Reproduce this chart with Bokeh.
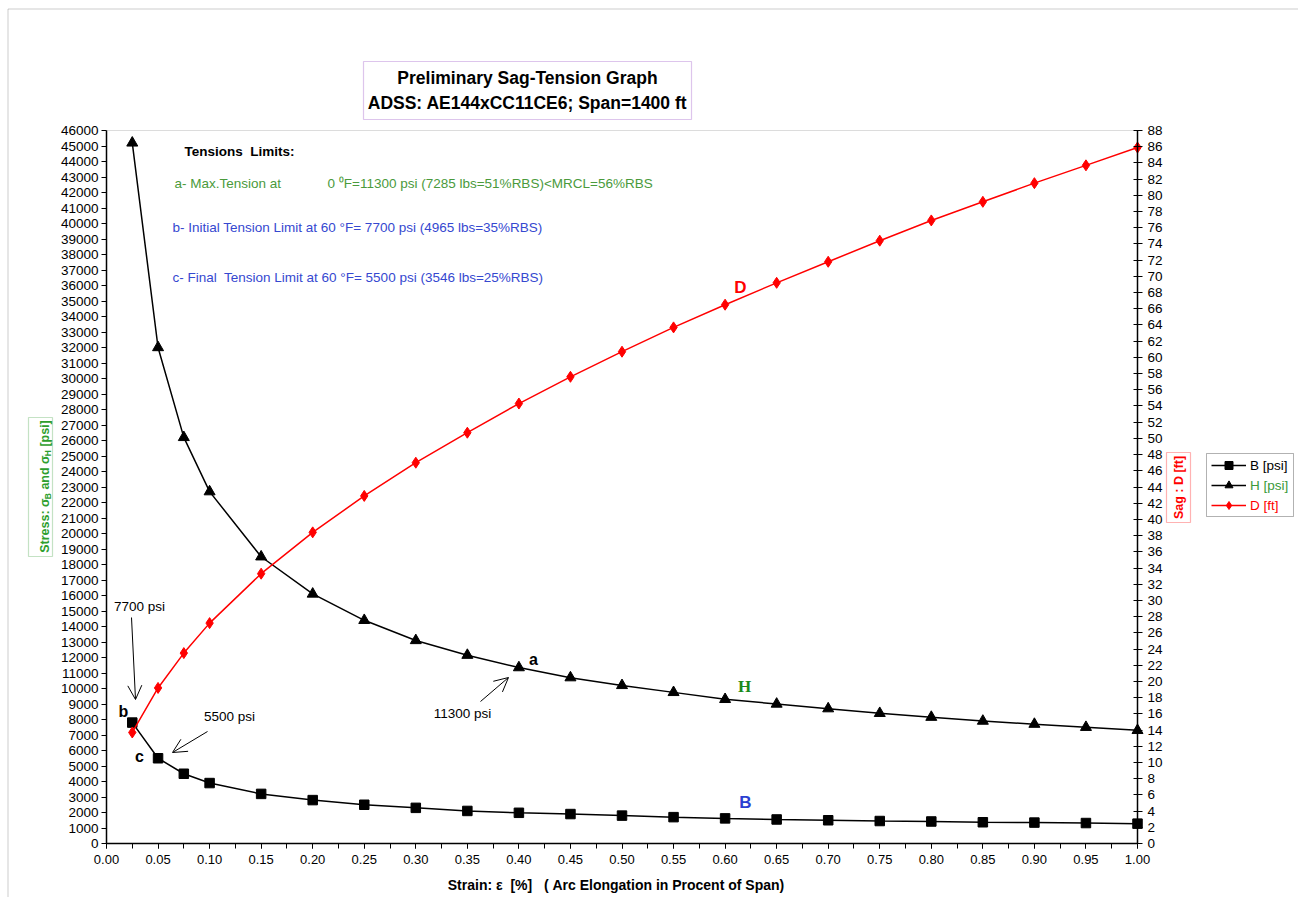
import math
from bokeh.plotting import figure
from bokeh.models import (Range1d, LinearAxis, FixedTicker, SingleIntervalTicker, PrintfTickFormatter,
                          Label, BoxAnnotation, Arrow, OpenHead, Legend, LegendItem)
from bokeh.embed import file_html
from bokeh.resources import INLINE

# ---------------- data ----------------
strain = [0.025, 0.05, 0.075, 0.10, 0.15, 0.20, 0.25, 0.30, 0.35, 0.40, 0.45,
          0.50, 0.55, 0.60, 0.65, 0.70, 0.75, 0.80, 0.85, 0.90, 0.95, 1.00]
stress_B = [7800, 5500, 4500, 3900, 3200, 2800, 2500, 2300, 2100, 1980, 1900,
            1800, 1700, 1620, 1550, 1500, 1450, 1420, 1370, 1350, 1320, 1280]
stress_H = [45200, 32000, 26200, 22700, 18500, 16100, 14400, 13100, 12150, 11350, 10700,
            10200, 9750, 9300, 9000, 8700, 8400, 8150, 7900, 7700, 7500, 7300]
sag_D = [13.7, 19.2, 23.5, 27.2, 33.3, 38.4, 42.9, 47.0, 50.7, 54.3, 57.6,
         60.7, 63.7, 66.5, 69.2, 71.8, 74.4, 76.9, 79.2, 81.5, 83.7, 85.9]
series_names = ["B [psi]", "H [psi]", "D [ft]"]
x_major_ticks = [round(i * 0.05, 2) for i in range(21)]
x_minor_ticks = [round(i * 0.025, 3) for i in range(41)]
x_bounds = (0.0, 1.0)
stress_bounds = (0, 46000)
sag_bounds = (0, 88)
title_lines = ["Preliminary Sag-Tension Graph", "ADSS: AE144xCC11CE6; Span=1400 ft"]

FONT = "Liberation Sans"
W, H = 1298, 897
# pixel placement of the data area on the canvas
PX_L, PX_R, PX_T, PX_B = 106, 1137, 130, 843


def extend(lo, hi, p_lo, p_hi, c_lo, c_hi):
    """range that maps lo->p_lo and hi->p_hi, extended to canvas pixels c_lo..c_hi"""
    k = (hi - lo) / (p_hi - p_lo)
    return lo + (c_lo - p_lo) * k, lo + (c_hi - p_lo) * k


xr = extend(x_bounds[0], x_bounds[1], PX_L, PX_R, 0, W)
yr = extend(stress_bounds[0], stress_bounds[1], H - PX_B, H - PX_T, 0, H)
sr = extend(sag_bounds[0], sag_bounds[1], H - PX_B, H - PX_T, 0, H)


def sx(px):
    return px


def sy(py):
    return H - py


p = figure(width=W, height=H, x_range=Range1d(*xr), y_range=Range1d(*yr),
           output_backend="svg", toolbar_location=None,
           min_border=0, min_border_left=0, min_border_right=0, min_border_top=0, min_border_bottom=0)
p.background_fill_color = "white"
p.border_fill_color = "white"
p.xgrid.visible = False
p.ygrid.visible = False
p.outline_line_color = None

# x axis
xa = p.xaxis[0]
xa.ticker = FixedTicker(ticks=x_major_ticks, minor_ticks=x_minor_ticks)
xa.formatter = PrintfTickFormatter(format="%.2f")
xa.fixed_location = stress_bounds[0]
xa.bounds = x_bounds
# left axis
ya = p.yaxis[0]
ya.ticker = SingleIntervalTicker(interval=1000, num_minor_ticks=0)
ya.formatter = PrintfTickFormatter(format="%d")
ya.fixed_location = x_bounds[0]
ya.bounds = stress_bounds
# right axis
p.extra_y_ranges = {"sag": Range1d(*sr)}
ra = LinearAxis(y_range_name="sag", ticker=SingleIntervalTicker(interval=2, num_minor_ticks=0),
                formatter=PrintfTickFormatter(format="%d"), fixed_location=x_bounds[1], bounds=sag_bounds)
p.add_layout(ra, "right")

for ax in (xa, ya, ra):
    ax.axis_line_color = "black"
    ax.axis_line_width = 1.5
    ax.major_tick_line_color = "black"
    ax.minor_tick_line_color = "black"
    ax.major_label_text_font = FONT
    ax.major_label_text_font_size = "13.5px"
    ax.major_label_text_color = "black"
xa.major_label_text_font_size = "13px"
xa.major_tick_out = 5
xa.major_tick_in = 0
xa.minor_tick_out = 5
xa.minor_tick_in = 0
xa.major_label_standoff = 6
ya.major_tick_out = 5
ya.major_tick_in = 0
ya.major_label_standoff = 3
ra.major_tick_out = 5
ra.major_tick_in = 4
ra.major_label_standoff = 5

# plot-area outline (grey top edge), drawn under the axes
p.add_layout(BoxAnnotation(left=x_bounds[0], right=x_bounds[1], bottom=stress_bounds[0], top=stress_bounds[1],
                           line_color="#8c8c8c", line_width=1, fill_alpha=0, level="underlay"))

# ---------------- series ----------------
lB = p.line(strain, stress_B, line_color="black", line_width=1.5)
sB = p.scatter(strain, stress_B, marker="square", size=9.5, fill_color="black", line_color="black")
lH = p.line(strain, stress_H, line_color="black", line_width=1.5)
sH = p.scatter(strain, stress_H, marker="triangle", size=11, fill_color="black", line_color="black")
lD = p.line(strain, sag_D, line_color="red", line_width=1.5, y_range_name="sag")
sD = p.scatter(strain, sag_D, marker="diamond", size=11, fill_color="red", line_color="red",
               y_range_name="sag")


# ---------------- boxes ----------------
def box(l, t, r, b, color, width=1.0, fill=None):
    ba = BoxAnnotation(left=sx(l), right=sx(r), top=sy(t), bottom=sy(b),
                       left_units="screen", right_units="screen",
                       top_units="screen", bottom_units="screen",
                       line_color=color, line_width=width,
                       fill_color=fill if fill else "white", fill_alpha=1.0 if fill else 0.0)
    p.add_layout(ba)


box(7.5, 8.5, 5000, 5000, "#555555", 1.0)   # outer chart frame (top & left visible)
box(363, 61, 691, 119, "#9040c0", 1.2)      # title box
box(28, 417, 52, 556, "#3aa03a", 1.2)       # left axis label box
box(1166, 452, 1190, 522, "red", 1.2)       # right axis label box
box(1206, 453, 1293, 516, "black", 1.0, fill="white")  # legend box


def label(x, y, text, size="13.5px", color="black", bold=False, align="left", baseline="middle",
          angle=0.0, font=FONT):
    lb = Label(x=sx(x), y=sy(y), x_units="screen", y_units="screen", text=text,
               text_font=font, text_font_size=size, text_color=color,
               text_font_style="bold" if bold else "normal",
               text_align=align, text_baseline=baseline, angle=angle)
    p.add_layout(lb)


# title
label(527, 77, title_lines[0], size="17.5px", bold=True, align="center")
label(527, 102, title_lines[1], size="17.5px", bold=True, align="center")

# tension limits notes
GREEN_T = "#4a9a3c"
BLUE_T = "#3548d0"
label(184, 151, "Tensions\u00a0 Limits:", bold=True)
label(174, 183, "a- Max.Tension at", color=GREEN_T)
label(327, 183, "0 \u2070F=11300 psi (7285 lbs=51%RBS)<MRCL=56%RBS", color=GREEN_T)
label(172, 227, "b- Initial Tension Limit at 60 \u00b0F= 7700 psi (4965 lbs=35%RBS)", color=BLUE_T)
label(172, 277, "c- Final\u00a0 Tension Limit at 60 \u00b0F= 5500 psi (3546 lbs=25%RBS)", color=BLUE_T)

# curve letters
label(740, 287, "D", size="17px", color="red", bold=True, align="center")
label(744, 686, "H", size="17px", color="#1a8a1a", bold=True, align="center", font="Liberation Serif")
label(745, 802, "B", size="17px", color="#2b3fd1", bold=True, align="center")
label(533, 659, "a", size="16px", bold=True, align="center")
label(123, 711, "b", size="16px", bold=True, align="center")
label(139, 756, "c", size="16px", bold=True, align="center")

# limit annotations with arrows
label(139, 606, "7700 psi", align="center")
label(229, 716, "5500 psi", align="center")
label(462, 713, "11300 psi", align="center")


def arrow(x0, y0, x1, y1):
    p.add_layout(Arrow(end=OpenHead(size=14, line_width=1, line_color="black"),
                       x_start=sx(x0), y_start=sy(y0), x_end=sx(x1), y_end=sy(y1),
                       start_units="screen", end_units="screen",
                       line_color="black", line_width=1))


arrow(131, 617, 135, 699)
arrow(207, 731, 172, 752)
arrow(480, 701, 508, 677)

# axis titles
label(615.5, 884, "Strain: \u03b5\u00a0 [%]\u00a0\u00a0 ( Arc Elongation in Procent of Span)", size="14px",
      bold=True, align="center")
label(1178, 487, "Sag : D [ft]", size="12.5px", color="red", bold=True, align="center", angle=math.pi / 2)

LG = "#2e9e2e"
# rotated left label built from pieces (reading upwards)
bx, sbx = 44.5, 47
label(bx, 552.3, "Stress: \u03c3", size="12.5px", color=LG, bold=True, baseline="alphabetic", angle=math.pi / 2)
label(sbx, 498.7, "B", size="8.5px", color=LG, bold=True, baseline="alphabetic", angle=math.pi / 2)
label(bx, 489.1, "and \u03c3", size="12.5px", color=LG, bold=True, baseline="alphabetic", angle=math.pi / 2)
label(sbx, 455.7, "H", size="8.5px", color=LG, bold=True, baseline="alphabetic", angle=math.pi / 2)
label(bx, 446.1, "[psi]", size="12.5px", color=LG, bold=True, baseline="alphabetic", angle=math.pi / 2)

# ---------------- legend (three single-item legends for per-item text colour) ----------------
legend_specs = [(series_names[0], [lB, sB], "black", 475),
                (series_names[1], [lH, sH], "#3a9a3a", 495),
                (series_names[2], [lD, sD], "red", 515)]
for name, rends, col, bottom in legend_specs:
    lg = Legend(items=[LegendItem(label=name, renderers=rends)], location=(sx(1211), sy(bottom)),
                glyph_width=35, glyph_height=20, label_height=20, padding=0, margin=0, spacing=0,
                label_standoff=4, border_line_alpha=0, background_fill_alpha=0,
                label_text_font=FONT, label_text_font_size="13.5px", label_text_color=col)
    p.add_layout(lg)

open("out.html", "w").write(file_html(p, INLINE))
